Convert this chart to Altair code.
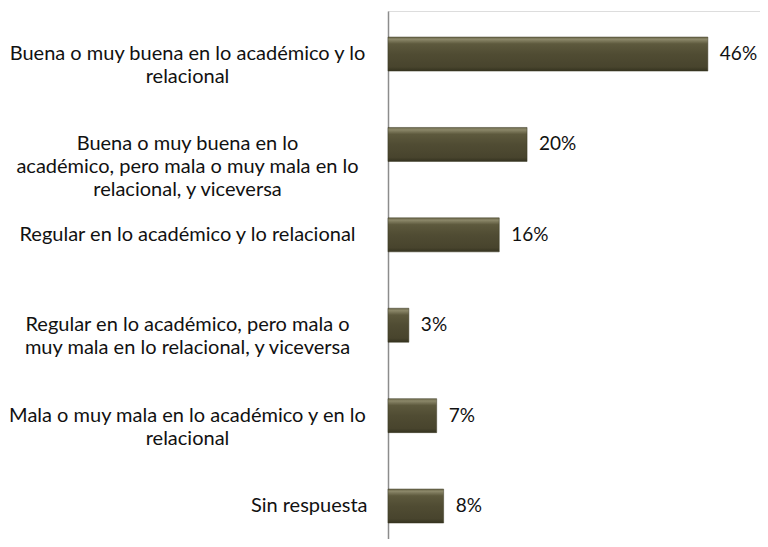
import altair as alt
import pandas as pd

categories = [
    "Buena o muy buena en lo académico y lo\nrelacional",
    "Buena o muy buena en lo\nacadémico, pero mala o muy mala en lo\nrelacional, y viceversa",
    "Regular en lo académico y lo relacional",
    "Regular en lo académico, pero mala o\nmuy mala en lo relacional, y viceversa",
    "Mala o muy mala en lo académico y en lo\nrelacional",
    "Sin respuesta",
]
values = [0.46, 0.20, 0.16, 0.03, 0.07, 0.08]
value_labels = ["46%", "20%", "16%", "3%", "7%", "8%"]

df = pd.DataFrame({"cat": categories, "value": values, "label": value_labels})

FONT = "Lato"
FS = 20

grad = alt.Gradient(
    gradient="linear",
    stops=[
        alt.GradientStop(color="#6e6a4c", offset=0),
        alt.GradientStop(color="#8b8769", offset=0.07),
        alt.GradientStop(color="#5d593d", offset=0.2),
        alt.GradientStop(color="#504c33", offset=0.5),
        alt.GradientStop(color="#48442d", offset=0.88),
        alt.GradientStop(color="#34321f", offset=1),
    ],
    x1=0, x2=0, y1=0, y2=1,
)

y_enc = alt.Y(
    "cat:N",
    sort=categories,
    title=None,
    scale=alt.Scale(paddingInner=0.624, paddingOuter=0.2325, align=0.62),
    axis=alt.Axis(
        domain=True,
        domainColor="#8c8c8c",
        domainWidth=1.5,
        ticks=False,
        labelExpr="split(datum.label, '\\n')",
        labelFont=FONT,
        labelFontSize=FS,
        labelColor="#111111",
        labelLineHeight=23,
        labelBaseline="middle",
        labelLimit=0,
        labelAlign={"condition": {"test": "datum.value == 'Sin respuesta'", "value": "right"}, "value": "center"},
        labelPadding={"condition": {"test": "datum.value == 'Sin respuesta'", "value": 21}, "value": 201},
    ),
)

x_enc = alt.X(
    "value:Q",
    scale=alt.Scale(domain=[0, 0.535], nice=False, zero=True),
    axis=None,
)

bars = alt.Chart(df).mark_bar(color=grad, stroke="#3a3823", strokeWidth=0.5).encode(
    x=x_enc, y=y_enc
)

text = alt.Chart(df).mark_text(
    align="left", baseline="middle", dx=12, font=FONT, fontSize=19, color="#111111"
).encode(x=x_enc, y=alt.Y("cat:N", sort=categories), text="label:N")

chart = (
    alt.layer(bars, text)
    .properties(
        width=372,
        height=528,
        autosize=alt.AutoSizeParams(type="none"),
        padding={"left": 380, "top": 3, "right": 0, "bottom": 0},
    )
    .configure_view(strokeWidth=0, stroke="transparent")
    .configure(background="white")
)

chart.save("out.html", embed_options={"renderer": "svg", "actions": False})
